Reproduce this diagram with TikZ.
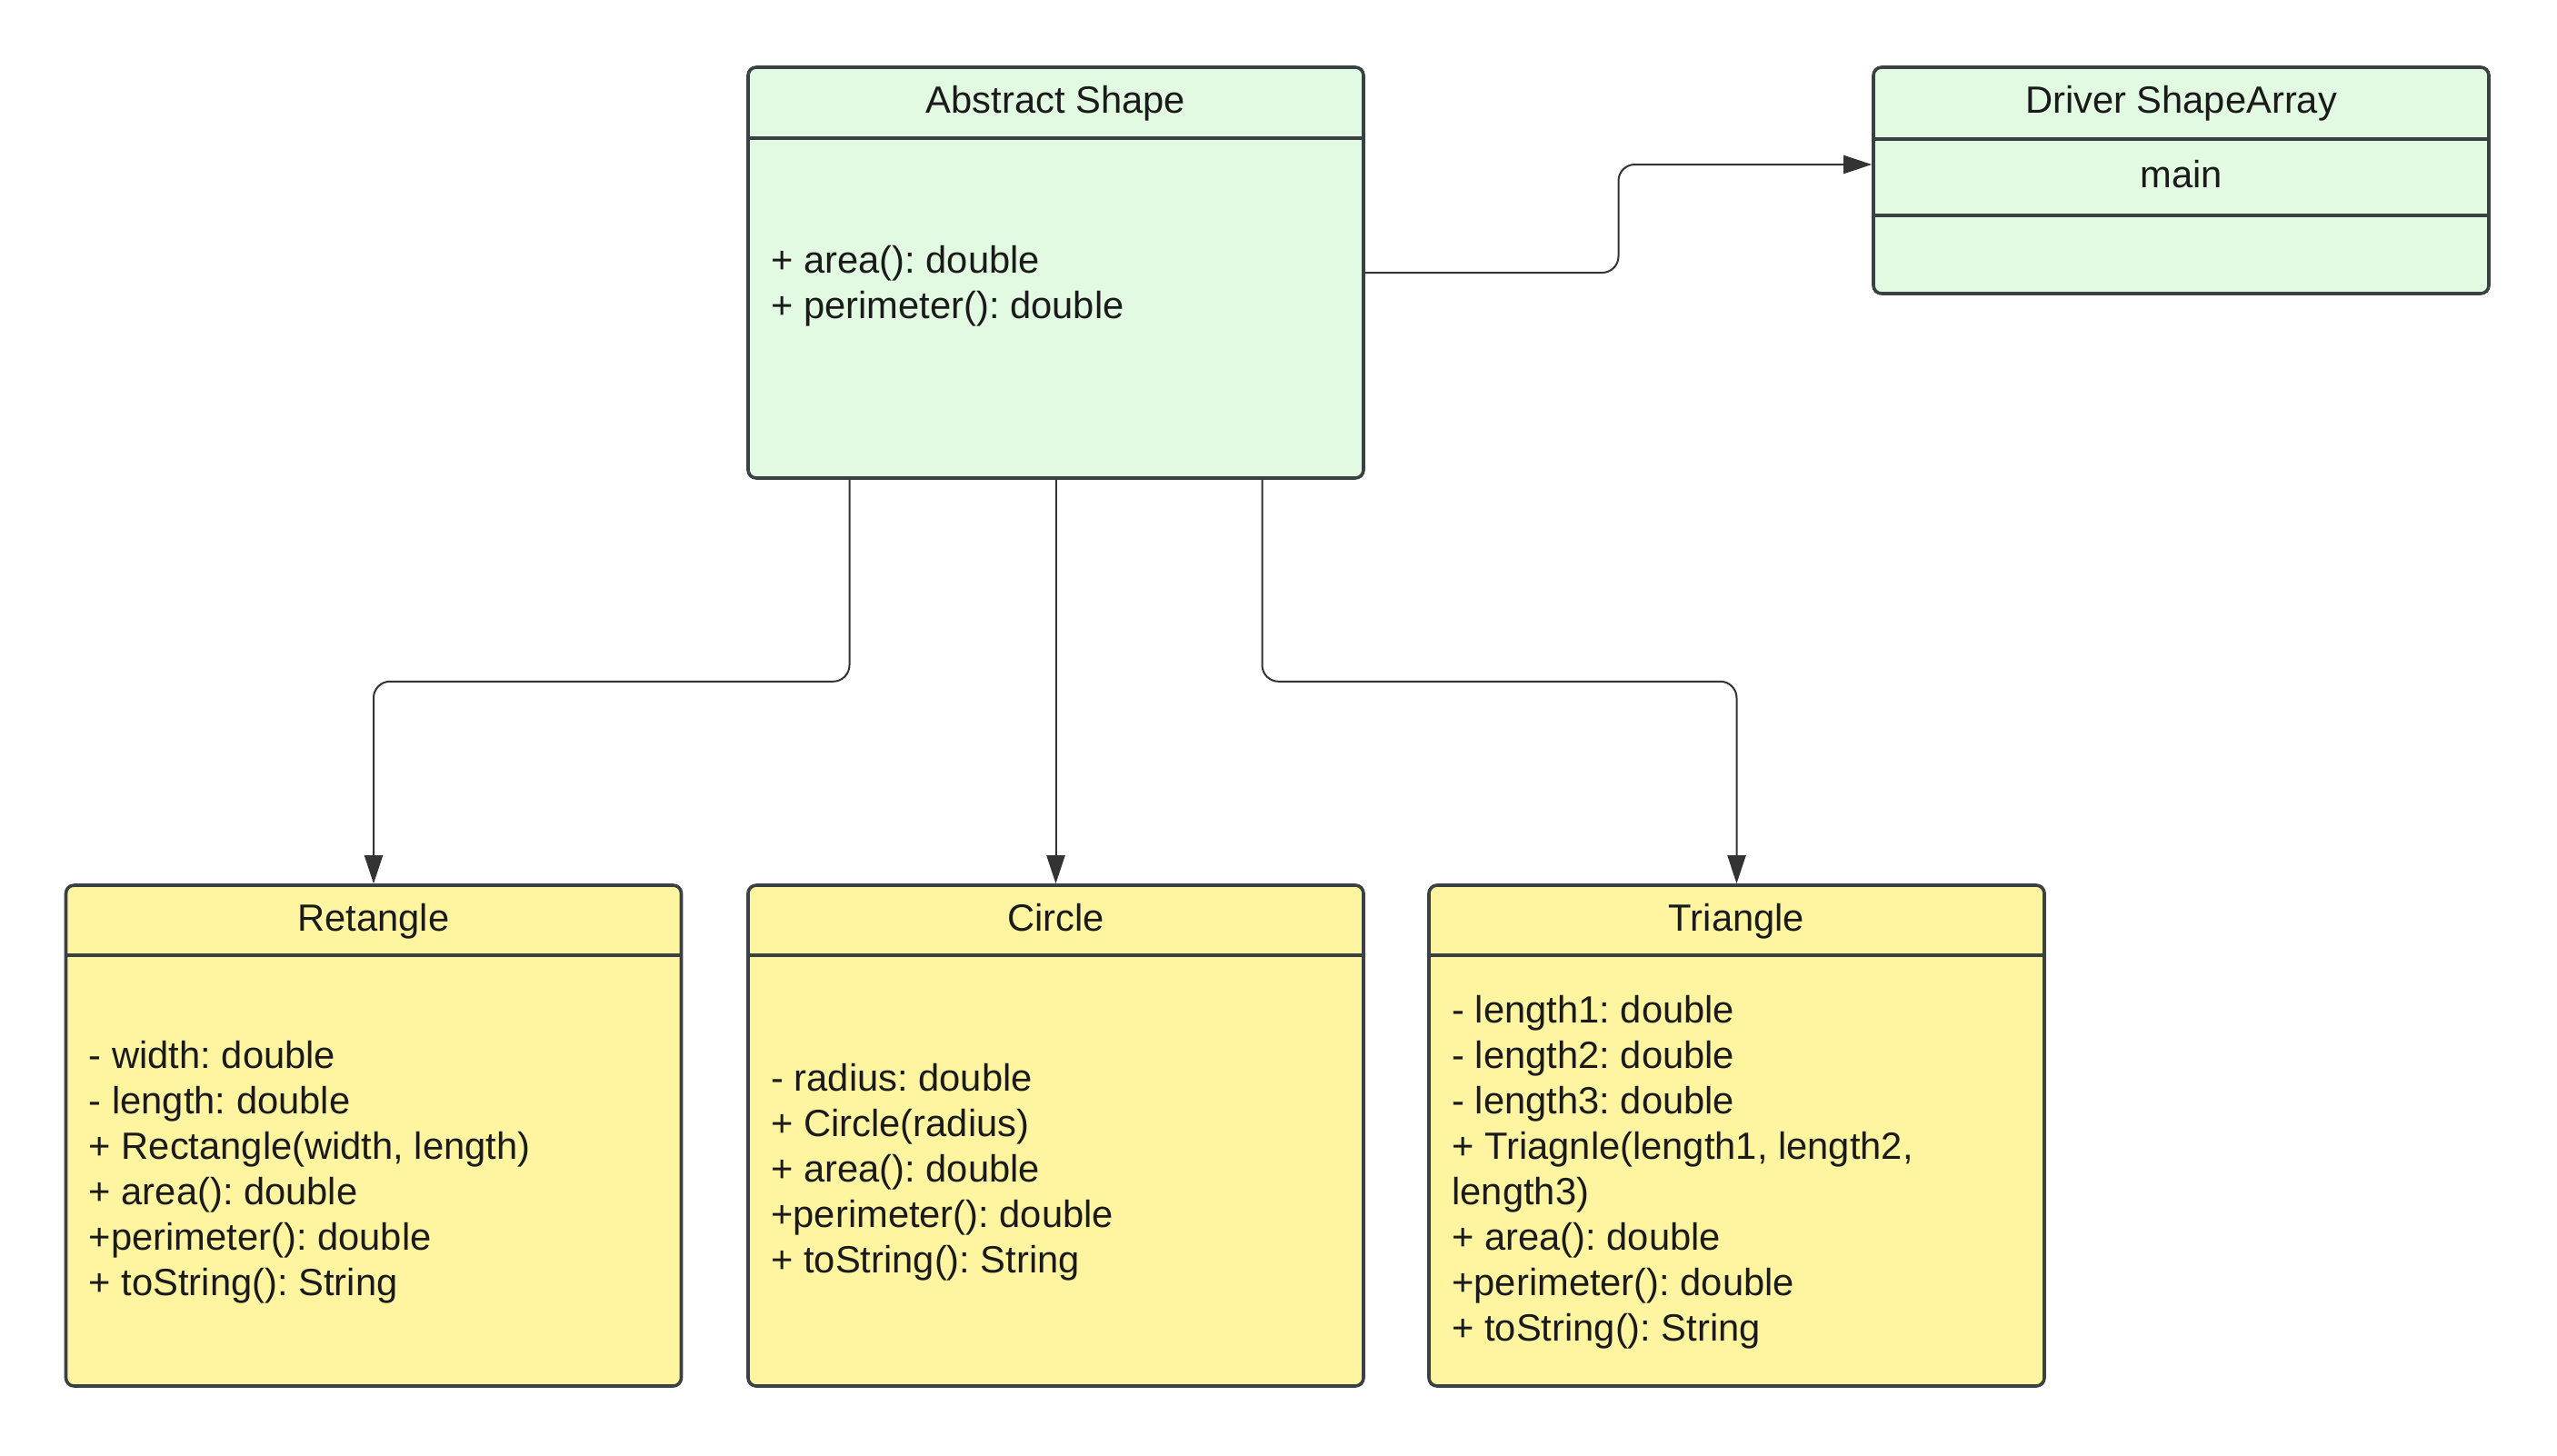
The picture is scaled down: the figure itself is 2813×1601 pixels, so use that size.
\documentclass[tikz,border=0pt]{standalone}
\usepackage{fontspec}
\setmainfont{Liberation Sans}
\usetikzlibrary{arrows.meta,calc}
\definecolor{boxline}{HTML}{3A4145}
\definecolor{conncol}{HTML}{333333}
\definecolor{lgreen}{HTML}{E2F9E2}
\definecolor{lyellow}{HTML}{FFF5A0}
\definecolor{txtcol}{HTML}{1A1A1A}
\frenchspacing
\begin{document}
\begin{tikzpicture}[x=1pt,y=-1pt,
  classbox/.style={draw=boxline, line width=3.6pt, rounded corners=9pt, minimum width=677pt, inner sep=0pt},
  greenbox/.style={classbox, fill=lgreen},
  yellowbox/.style={classbox, fill=lyellow},
  divider/.style={draw=boxline, line width=3.6pt},
  txt/.style={font=\fontsize{41.7pt}{50pt}\selectfont\frenchspacing, text=txtcol, inner sep=0pt},
  title/.style={txt, text height=30pt, text depth=9pt},
  body/.style={txt, align=left, anchor=west},
  conn/.style={draw=conncol, line width=2pt, rounded corners=18pt, -{Triangle[length=31pt,width=20pt]}}]
\fill[white] (0,0) rectangle (2813,1601);
\useasboundingbox (0,0) rectangle (2813,1601);

% Abstract Shape
\node[greenbox, minimum height=452pt] (abs) at (1161.5,300) {};
\draw[divider] ([yshift=-80pt]abs.north west) -- ([yshift=-80pt]abs.north east);
\node[title] (absT) at ([yshift=-42pt]abs.north) {Abstract Shape};
\node[body] (absB) at ([xshift=27pt,yshift=-15pt]abs.west) {+ area(): double\\+ perimeter(): double};

% Driver ShapeArray
\node[greenbox, minimum height=249pt] (drv) at (2399.5,198.5) {};
\draw[divider] ([yshift=-81pt]drv.north west) -- ([yshift=-81pt]drv.north east);
\draw[divider] ([yshift=-165pt]drv.north west) -- ([yshift=-165pt]drv.north east);
\node[title] (drvT) at ([yshift=-42pt]drv.north) {Driver ShapeArray};
\node[title] (drvM) at ([yshift=-124pt]drv.north) {main};

% Retangle
\node[yellowbox, minimum height=551pt] (rect) at (411,1249.5) {};
\draw[divider] ([yshift=-79pt]rect.north west) -- ([yshift=-79pt]rect.north east);
\node[title] (rectT) at ([yshift=-42pt]rect.north) {Retangle};
\node[body] (rectB) at ([xshift=27pt,yshift=-40pt]rect.west) {- width: double\\- length: double\\+ Rectangle(width, length)\\+ area(): double\\+perimeter(): double\\+ toString(): String};

% Circle
\node[yellowbox, minimum height=551pt] (circ) at (1161.5,1249.5) {};
\draw[divider] ([yshift=-79pt]circ.north west) -- ([yshift=-79pt]circ.north east);
\node[title] (circT) at ([yshift=-42pt]circ.north) {Circle};
\node[body] (circB) at ([xshift=27pt,yshift=-40pt]circ.west) {- radius: double\\+ Circle(radius)\\+ area(): double\\+perimeter(): double\\+ toString(): String};

% Triangle
\node[yellowbox, minimum height=551pt] (tri) at (1910.5,1249.5) {};
\draw[divider] ([yshift=-79pt]tri.north west) -- ([yshift=-79pt]tri.north east);
\node[title] (triT) at ([yshift=-42pt]tri.north) {Triangle};
\node[body] (triB) at ([xshift=27pt,yshift=-40pt]tri.west) {- length1: double\\- length2: double\\- length3: double\\+ Triagnle(length1, length2,\\length3)\\+ area(): double\\+perimeter(): double\\+ toString(): String};

% Connectors
\coordinate (mid) at ($(abs.east)!0.5!(drv.west)$);
\draw[conn] (abs.east) -| (mid) |- ([yshift=17.5pt]drv.west);
\draw[conn] ([xshift=-227pt]abs.south) -- ++(0,222) -| (rect.north);
\draw[conn] (abs.south) -- (circ.north);
\draw[conn] ([xshift=227pt]abs.south) -- ++(0,222) -| (tri.north);
\end{tikzpicture}
\end{document}
